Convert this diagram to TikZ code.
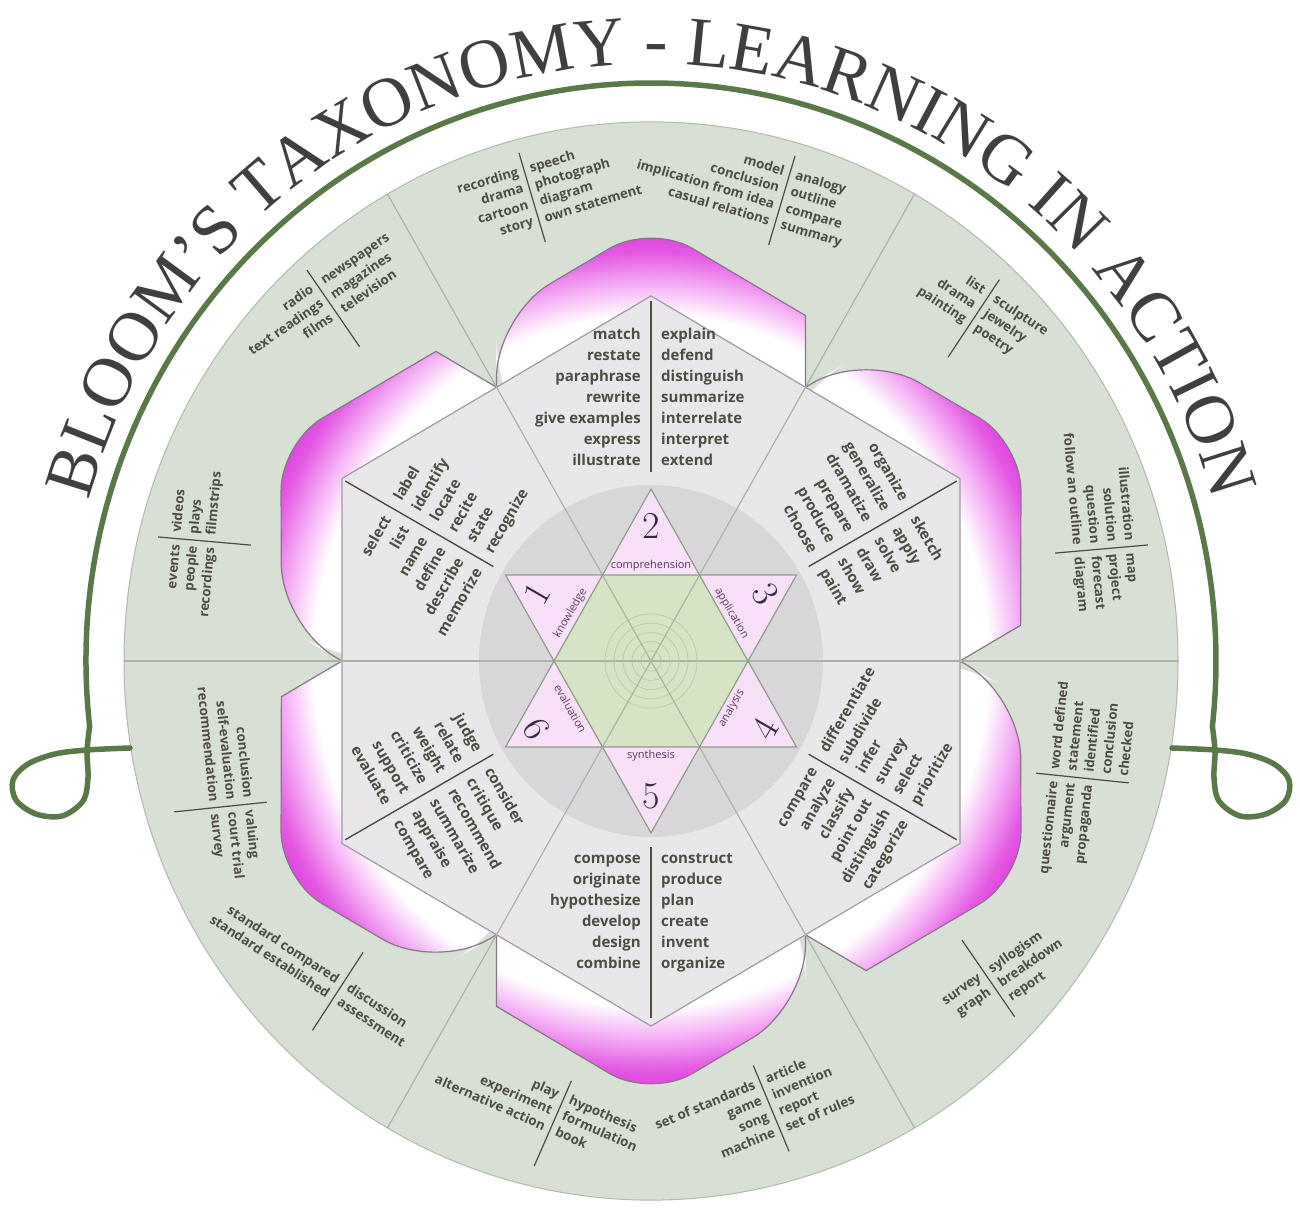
\documentclass[tikz,border=0pt]{standalone}
\usepackage{fontspec}
\newfontfamily\wordfont{Open Sans}
\newfontfamily\ttlfam{Liberation Serif}
\usetikzlibrary{decorations.text}
\definecolor{discfill}{HTML}{D8DFD4}
\definecolor{discedge}{HTML}{B0BAAB}
\definecolor{sectorline}{HTML}{AAB4A5}
\definecolor{hexfill}{HTML}{EAE7EB}
\definecolor{hexedge}{HTML}{9E9A9F}
\definecolor{graydisc}{HTML}{D8D6D9}
\definecolor{stargreen}{HTML}{D6E3C5}
\definecolor{starpink}{HTML}{F8E1F8}
\definecolor{staredge}{HTML}{8F9C87}
\definecolor{petalpink}{HTML}{F4B0F4}
\definecolor{petalmag}{HTML}{E358E3}
\definecolor{petaldeep}{HTML}{DC36DC}
\definecolor{petaledge}{HTML}{877589}
\definecolor{wordcol}{HTML}{4D4D42}
\definecolor{titlecol}{HTML}{3F3F3D}
\definecolor{arcgreen}{HTML}{5B7849}
\definecolor{numcol}{HTML}{3A2944}
\definecolor{labcol}{HTML}{5A3B64}
\definecolor{ringcol}{HTML}{BECBB2}
\pgfdeclareradialshading{petalshade}{\pgfpointorigin}{color(0bp)=(white); color(16.9bp)=(white); color(18.4bp)=(petalpink); color(20bp)=(petalmag); color(21.4bp)=(petaldeep); color(50bp)=(petaldeep)}
\newcommand\ttlfont{\ttlfam\fontsize{70}{70}\selectfont}
\newcommand\igroup[8]{%
  \begin{scope}[shift={({651+#4*cos(#2)},{548+1.023*#4*sin(#2)})}, rotate=#3, transform shape]
    \coordinate (#1t) at (0,#5);
    \coordinate (#1b) at (0,#6);
    \draw[idiv] (#1t) -- (#1b);
    \node[iword, anchor=north east, align=right] (#1l) at (-10,10.5) {\strut #7};
    \node[iword, anchor=north west, align=left] (#1r) at (10,10.5) {\strut #8};
  \end{scope}}
\newcommand\ogroup[6][36]{%
  \begin{scope}[shift={#3}, rotate=#4, transform shape]
    \coordinate (#2t) at (0,46);
    \coordinate (#2b) at (0,-47);
    \draw[odiv] (#2t) -- (#2b);
    \node[oword, anchor=north east, align=right] (#2l) at (-6,#1) {\strut #5};
    \node[oword, anchor=north west, align=left] (#2r) at (6,#1) {\strut #6};
  \end{scope}}
\begin{document}
\begin{tikzpicture}[x=1pt,y=1pt,
  iword/.style={font=\wordfont\bfseries\fontsize{15}{21}\selectfont, text=wordcol, inner sep=0pt},
  oword/.style={font=\wordfont\bfseries\fontsize{13.3}{17.3}\selectfont, text=wordcol, inner sep=0pt},
  idiv/.style={draw=wordcol, line width=1.4pt},
  odiv/.style={draw=wordcol, line width=1.2pt},
  sector/.style={draw=sectorline, line width=1.2pt},
  numlab/.style={font=\fontsize{38}{38}\selectfont, text=numcol, inner sep=0pt},
  starlab/.style={font=\wordfont\fontsize{11}{11}\selectfont, text=labcol, inner sep=0pt},
  arcline/.style={draw=arcgreen, line width=5.5pt, line cap=round, line join=round}]
\useasboundingbox (0,0) rectangle (1300,1209);
\fill[white] (0,0) rectangle (1300,1209);

\begin{scope}[shift={(651,548)}, yscale=1.023]
  % outer disc
  \filldraw[fill=discfill, draw=discedge, line width=1pt] (0,0) circle (527);
  % petals with a smooth radial white-to-magenta shading
  \begin{scope}
    \clip \foreach \p in {90,30,-30,-90,-150,150} {
      (0,0) -- (\p-30:309) -- (\p-24.6:371.3) [rounded corners=48] -- (\p:427.3) [rounded corners=62] -- (\p+24.6:371.3) [rounded corners=48] -- (\p+30:309) [sharp corners] -- cycle };
    \shade[shading=petalshade] (0,0) circle (500);
  \end{scope}
  \draw[draw=petaledge, line width=1.2pt] \foreach \p in {90,30,-30,-90,-150,150} {
      (\p-30:309) -- (\p-24.6:371.3) [rounded corners=48] -- (\p:427.3) [rounded corners=62] -- (\p+24.6:371.3) [rounded corners=48] -- (\p+30:309) [sharp corners] };
  % hexagon
  \filldraw[fill=hexfill, draw=hexedge, line width=1.2pt] (90:356.8) -- (30:356.8) -- (-30:356.8) -- (-90:356.8) -- (-150:356.8) -- (150:356.8) -- cycle;
  % gray disc
  \fill[graydisc] (0,0) circle (172);
  % star
  \fill[starpink] (90:168) -- (210:168) -- (330:168) -- cycle;
  \fill[starpink] (-90:168) -- (30:168) -- (150:168) -- cycle;
  \fill[stargreen] (0:97) -- (60:97) -- (120:97) -- (180:97) -- (240:97) -- (300:97) -- cycle;
  \foreach \r in {10,19,28,37,46} \draw[ringcol, line width=0.8pt] (0,0) circle (\r);
  % diameters
  \draw[sector] (0:527) -- (180:527);
  \draw[sector] (60:527) -- (240:527);
  \draw[sector] (120:527) -- (300:527);
  \draw[staredge, line width=1.2pt] (90:168) -- (210:168) -- (330:168) -- cycle;
  \draw[staredge, line width=1.2pt] (-90:168) -- (30:168) -- (150:168) -- cycle;
\end{scope}

% star numbers and labels
\node[numlab] (num2) at (651,683) {2};
\node[numlab, rotate=-60] (num3) at (765.3,615.5) {3};
\node[numlab, rotate=60] (num4) at (765.3,480.5) {4};
\node[numlab] (num5) at (651,413) {5};
\node[numlab, rotate=-60] (num6) at (536.7,480.5) {6};
\node[numlab, rotate=60] (num1) at (536.7,615.5) {1};
\node[starlab] (lab2) at (651,643.1) {comprehension};
\node[starlab, rotate=-60] (lab3) at (731.5,595.6) {application};
\node[starlab, rotate=60] (lab4) at (731.5,500.4) {analysis};
\node[starlab] (lab5) at (651,452.9) {synthesis};
\node[starlab, rotate=-60] (lab6) at (570.5,500.4) {evaluation};
\node[starlab, rotate=60] (lab1) at (570.5,595.6) {knowledge};

% inner word groups
\igroup{ga}{90}{0}{318.8}{34.2}{-136.8}{match\\restate\\paraphrase\\rewrite\\give examples\\express\\illustrate}{explain\\defend\\distinguish\\summarize\\interrelate\\interpret\\extend}
\igroup{gb}{30}{-60}{298}{55}{-116}{organize\\generalize\\dramatize\\prepare\\produce\\choose}{sketch\\apply\\solve\\draw\\show\\paint}
\igroup{gf}{150}{60}{298}{55}{-116}{select\\list\\name\\define\\describe\\memorize}{label\\identify\\locate\\recite\\state\\recognize}
\igroup{gc}{-30}{60}{194}{12}{-159}{compare\\analyze\\classify\\point out\\distinguish\\categorize}{differentiate\\subdivide\\infer\\survey\\select\\prioritize}
\igroup{gd}{-90}{0}{194}{12}{-159}{compose\\originate\\hypothesize\\develop\\design\\combine}{construct\\produce\\plan\\create\\invent\\organize}
\igroup{ge}{-150}{-60}{194}{12}{-159}{judge\\relate\\weight\\criticize\\support\\evaluate}{consider\\critique\\recommend\\summarize\\appraise\\compare}

% outer word groups
\ogroup{t1}{(532,1012)}{16.5}{recording\\drama\\cartoon\\story}{speech\\photograph\\diagram\\own statement}
\ogroup{t2}{(782,1009)}{-16.5}{model\\conclusion\\implication from idea\\casual relations}{analogy\\outline\\compare\\summary}
\ogroup{l1}{(333,901)}{34.5}{radio\\text readings\\films}{newspapers\\magazines\\television}
\ogroup{r1}{(974,891)}{-33.5}{list\\drama\\painting}{sculpture\\jewelry\\poetry}
\ogroup{l2}{(204,668)}{85}{events\\people\\recordings}{videos\\plays\\filmstrips}
\ogroup{r2}{(1102,660)}{-85}{illustration\\solution\\question\\follow an outline}{map\\project\\forecast\\diagram}
\ogroup{l3}{(221,402)}{-84}{conclusion\\self-evaluation\\recommendation}{valuing\\court trial\\survey}
\ogroup{r3}{(1082,431)}{84}{questionnaire\\argument\\propaganda}{word defined\\statement\\identified\\conclusion\\checked}
\ogroup[17]{l4}{(338,218)}{-33}{standard compared\\standard established}{discussion\\assessment}
\ogroup[14]{r4}{(988,231)}{34.5}{survey\\graph}{syllogism\\breakdown\\report}
\ogroup{b1}{(553,86)}{-23.6}{play\\experiment\\alternative action}{hypothesis\\formulation\\book}
\ogroup{b2}{(771,101)}{22.6}{set of standards\\game\\song\\machine}{article\\invention\\report\\set of rules}

% green arc with loops
\draw[arcline] ({651+565*cos(186.5)},{548+578*sin(186.5)}) arc[start angle=186.5, end angle=-6.5, x radius=565, y radius=578];
\draw[arcline] plot[smooth, tension=0.55] coordinates {(89.6,482.6) (87,457) (88,431) (83,408) (62,393) (36,395) (16,409) (13,429) (28,445) (55,455) (87,459) (130,461)};
\draw[arcline] plot[smooth, tension=0.55] coordinates {(1212.4,482.6) (1215,457) (1214,431) (1219,408) (1240,393) (1266,395) (1286,409) (1289,429) (1274,445) (1247,455) (1215,459) (1172,461)};

% title
\path[decorate, decoration={text along path, text color=titlecol, text={|\ttlfont|BLOOM’S TAXONOMY - LEARNING IN ACTION}, text align=center}]
  ({651+584*cos(164.5)},{548+597*sin(164.5)}) arc[start angle=164.5, end angle=15.5, x radius=584, y radius=597];
\end{tikzpicture}
\end{document}
